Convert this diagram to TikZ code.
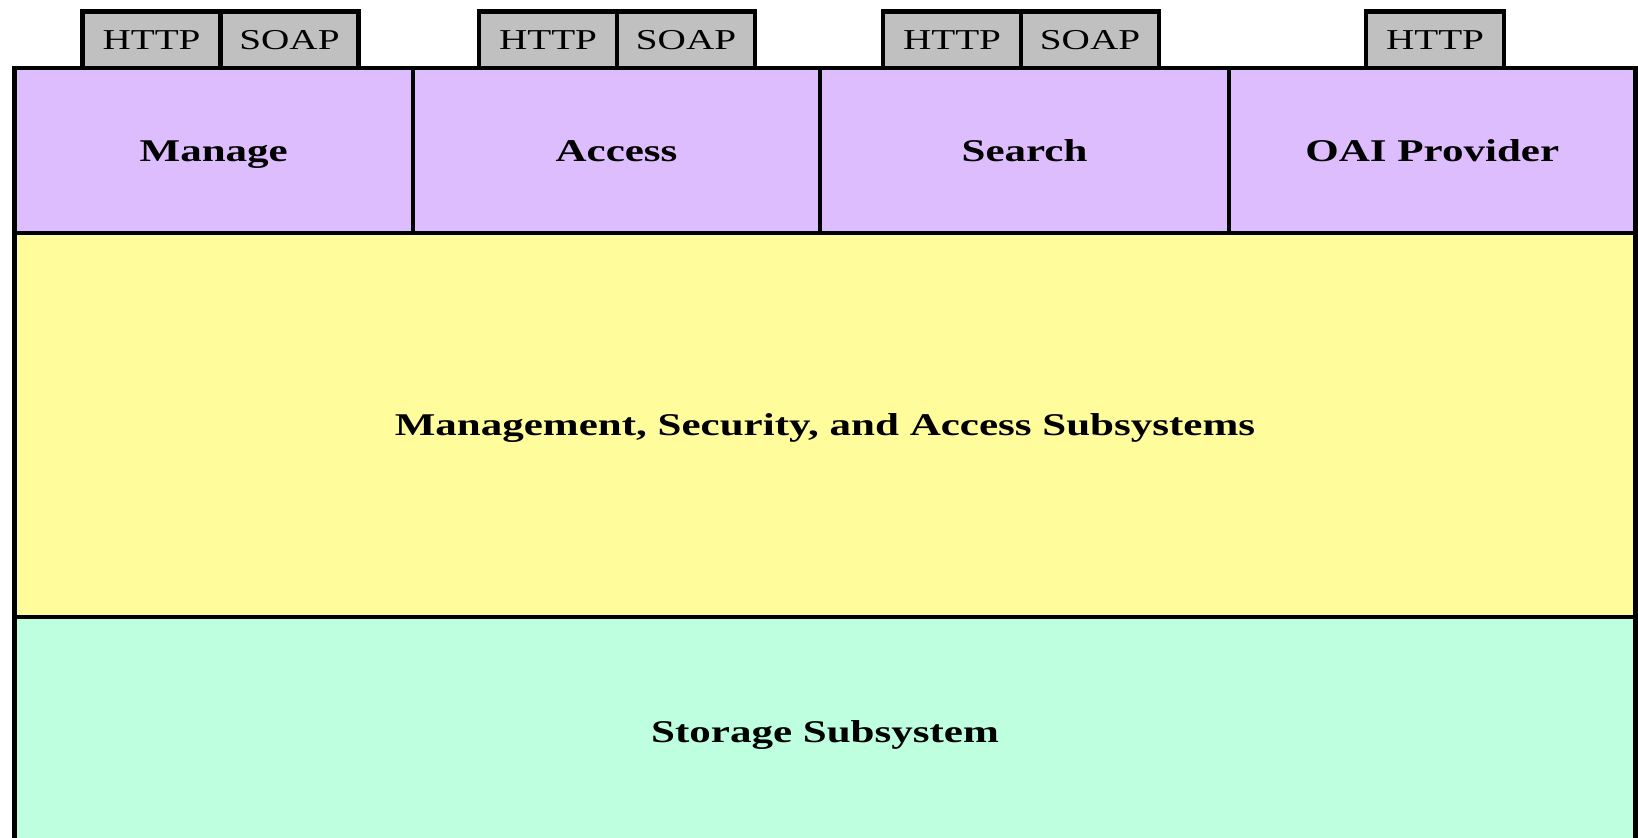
\documentclass[tikz,border=0pt]{standalone}
\usepackage{fontspec}
\setmainfont{Liberation Serif}[FakeStretch=1.36]
\usetikzlibrary{positioning}
\definecolor{svcpurple}{RGB}{221,189,253}
\definecolor{coreyellow}{RGB}{255,253,155}
\definecolor{storegreen}{RGB}{189,255,222}
\definecolor{protogray}{RGB}{192,192,192}
\tikzset{layer/.style={draw,line width=1.3pt,inner sep=0pt,outer sep=0pt,text height=6pt,text depth=0pt,font=\fontsize{9}{9}\selectfont\bfseries}}
\tikzset{svc/.style={layer,fill=svcpurple,minimum height=1.65cm}}
\tikzset{proto/.style={draw,line width=1.4pt,fill=protogray,inner sep=0pt,outer sep=0pt,minimum width=1.38cm,minimum height=0.565cm,text height=5.4pt,text depth=0pt,font=\fontsize{8.2}{8.2}\selectfont}}

\begin{document}
\begin{tikzpicture}
  \path[use as bounding box,clip] (0,0) rectangle (16.38,-8.38);
  % service row
  \node[svc,minimum width=3.985cm,anchor=north west] (manage) at (0.145,-0.68) {Manage};
  \node[svc,minimum width=4.07cm,right=0pt of manage] (access) {Access};
  \node[svc,minimum width=4.09cm,right=0pt of access] (search) {Search};
  \node[svc,minimum width=4.065cm,right=0pt of search] (oai) {OAI Provider};
  % subsystems
  \node[layer,fill=coreyellow,minimum width=16.21cm,minimum height=3.84cm,anchor=north west] (core) at (manage.south west) {Management, Security, and Access Subsystems};
  \node[layer,fill=storegreen,minimum width=16.21cm,minimum height=2.30cm,below=0pt of core] (storage) {Storage Subsystem};
  % protocol tabs
  \node[proto,anchor=south west] (http1) at (0.825,-0.68) {HTTP};
  \node[proto,right=0pt of http1] (soap1) {SOAP};
  \node[proto,anchor=south west] (http2) at (4.79,-0.68) {HTTP};
  \node[proto,right=0pt of http2] (soap2) {SOAP};
  \node[proto,anchor=south west] (http3) at (8.83,-0.68) {HTTP};
  \node[proto,right=0pt of http3] (soap3) {SOAP};
  \node[proto,anchor=south west] (http4) at (13.66,-0.68) {HTTP};
\end{tikzpicture}
\end{document}
